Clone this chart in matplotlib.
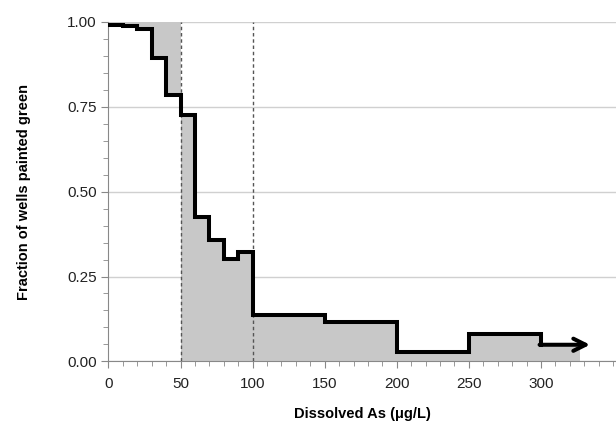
import numpy as np
import matplotlib
matplotlib.use("Agg")
import matplotlib.pyplot as plt
from matplotlib.ticker import MultipleLocator

plt.rcParams['font.family'] = ['Liberation Sans', 'DejaVu Sans']

# step edges (ug/L) and fraction of wells painted green in each bin
edges = [0, 10, 20, 30, 40, 50, 60, 70, 80, 90, 100, 150, 200, 250, 300]
fraction = [0.992, 0.988, 0.978, 0.894, 0.784, 0.725, 0.426, 0.357, 0.301,
            0.321, 0.137, 0.115, 0.029, 0.081, 0.049]
x_end = 327        # end of the shaded area
arrow_tip = 334    # arrow beyond last bin
limits = [50, 100]  # dashed reference lines

x = np.array(edges + [x_end], dtype=float)
y = np.array(fraction + [fraction[-1]])

fig = plt.figure(figsize=(6.16, 4.37), dpi=100)
ax = fig.add_axes([0.176, 0.173, 0.824, 0.777])

grey = '#c8c8c8'
# below 50: fraction not painted green (between curve and 1)
lo = x <= 50
ax.fill_between(x[lo], y[lo], 1.0, step='post', color=grey, lw=0)
hi = x >= 50
ax.fill_between(x[hi], 0, y[hi], step='post', color=grey, lw=0)

for xv in limits:
    ax.plot([xv, xv], [0, 1], ls=(0, (2.5, 2)), color='#555555', lw=1, zorder=3)

ax.step(x[:-1], y[:-1], where='post', color='black', lw=2.9, zorder=4,
        solid_joinstyle='miter', solid_capstyle='projecting')
ax.annotate('', xy=(arrow_tip, fraction[-1]), xytext=(edges[-1] - 1, fraction[-1]),
            arrowprops=dict(arrowstyle='->', color='black', lw=2.9,
                            mutation_scale=22, shrinkA=0, shrinkB=0),
            zorder=4)

ax.set_xlim(0, 352)
ax.set_ylim(0, 1.0)
ax.set_xticks(range(0, 301, 50))
ax.xaxis.set_minor_locator(MultipleLocator(10))
ax.set_yticks([0, 0.25, 0.5, 0.75, 1.0])
ax.set_yticklabels(['0.00', '0.25', '0.50', '0.75', '1.00'])
ax.yaxis.set_minor_locator(MultipleLocator(0.05))
ax.grid(axis='y', which='major', color='#d0d0d0', lw=1)
ax.set_axisbelow(True)

for s in ['top', 'right']:
    ax.spines[s].set_visible(False)
for s in ['left', 'bottom']:
    ax.spines[s].set_color('#888888')
ax.tick_params(which='both', colors='#888888', labelcolor='#222222', labelsize=11)
ax.tick_params(which='major', length=5)
ax.tick_params(which='minor', length=3.5)
ax.tick_params(axis='x', pad=6)

ax.set_xlabel('Dissolved As (\u03bcg/L)', fontsize=10.5, fontweight='bold', labelpad=12)
ax.set_ylabel('Fraction of wells painted green', fontsize=10.5, fontweight='bold', labelpad=26)

fig.savefig('out.png', dpi=100)
